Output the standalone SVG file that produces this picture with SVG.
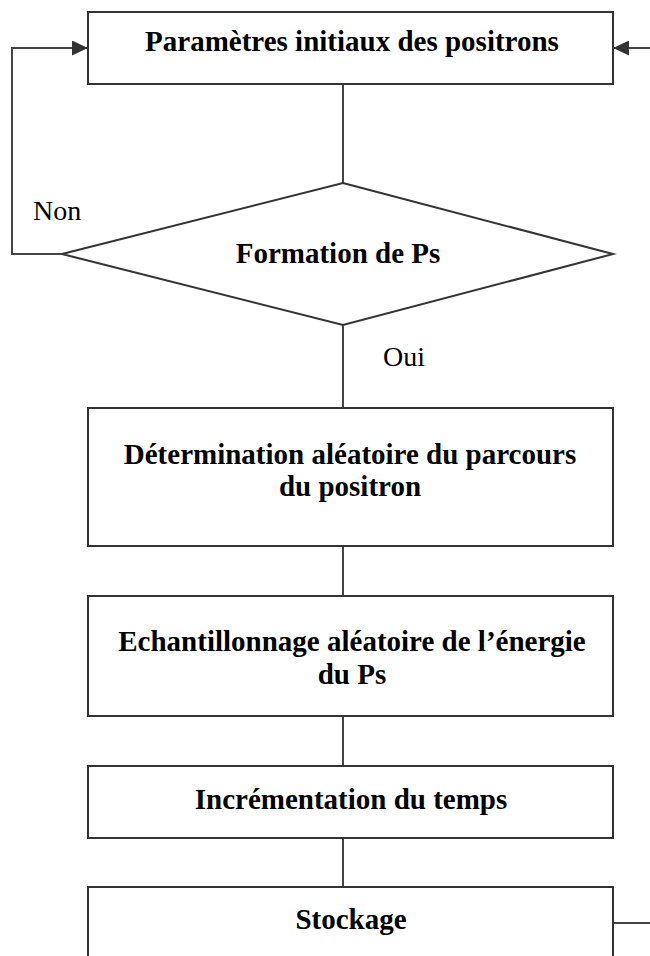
<svg xmlns="http://www.w3.org/2000/svg" width="650" height="956" viewBox="0 0 650 956">
<style>
.box{fill:#fff;stroke:#333;stroke-width:2}
.ln{fill:none;stroke:#444;stroke-width:2}
.t{font-family:"Liberation Serif","Times New Roman",serif;font-weight:bold;font-size:29px;text-anchor:middle;fill:#000}
.l{font-family:"Liberation Serif","Times New Roman",serif;font-size:28px;fill:#000}
</style>
<defs>
<marker id="a" viewBox="0 0 16 15" refX="16" refY="7.5" markerWidth="16" markerHeight="15" orient="auto" markerUnits="userSpaceOnUse">
<path d="M0,0 L16,7.5 L0,15 z" fill="#333"/>
</marker>
</defs>
<g id="connectors">
<line class="ln" x1="343" y1="85" x2="343" y2="183"/>
<line class="ln" x1="343" y1="325" x2="343" y2="408"/>
<line class="ln" x1="343" y1="546" x2="343" y2="596"/>
<line class="ln" x1="343" y1="716" x2="343" y2="766"/>
<line class="ln" x1="343" y1="838" x2="343" y2="887"/>
<polyline class="ln" points="62,254 12,254 12,48 88,48" marker-end="url(#a)"/>
<line class="ln" x1="650" y1="48" x2="613" y2="48" marker-end="url(#a)"/>
<line class="ln" x1="613" y1="923" x2="650" y2="923"/>
<text class="l" x="33" y="220">Non</text>
<text class="l" x="383" y="366">Oui</text>
</g>
<g id="n1">
<rect class="box" x="88" y="12" width="525" height="72"/>
<text class="t" x="352" y="51">Paramètres initiaux des positrons</text>
</g>
<g id="n2">
<polygon class="box" points="343,183 613,254 343,325 62,254"/>
<text class="t" x="338" y="263">Formation de Ps</text>
</g>
<g id="n3">
<rect class="box" x="88" y="408" width="525" height="138"/>
<text class="t" x="350" y="464">Détermination aléatoire du parcours</text>
<text class="t" x="350" y="496">du positron</text>
</g>
<g id="n4">
<rect class="box" x="88" y="596" width="525" height="120"/>
<text class="t" x="352" y="651">Echantillonnage aléatoire de l’énergie</text>
<text class="t" x="352" y="684">du Ps</text>
</g>
<g id="n5">
<rect class="box" x="88" y="766" width="525" height="72"/>
<text class="t" x="351" y="809">Incrémentation du temps</text>
</g>
<g id="n6">
<rect class="box" x="88" y="887" width="525" height="80"/>
<text class="t" x="351" y="929">Stockage</text>
</g>
</svg>
